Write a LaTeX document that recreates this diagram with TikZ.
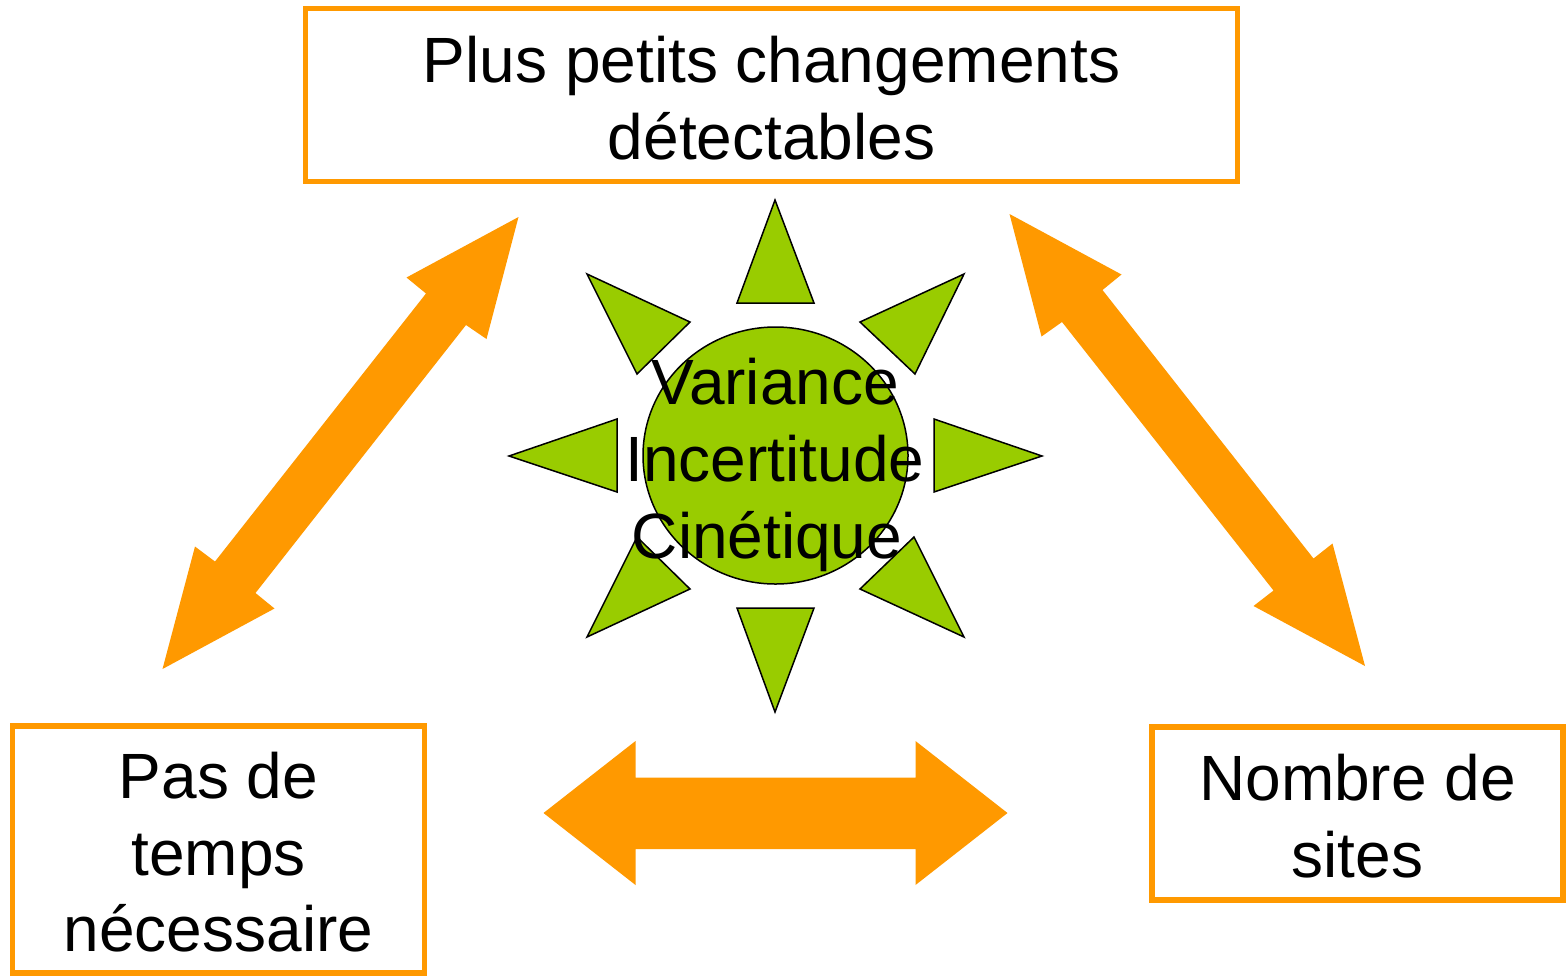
\documentclass[tikz,border=0pt]{standalone}
\usepackage{fontspec}
\setmainfont{Liberation Sans}
\usetikzlibrary{shapes.geometric}
\definecolor{orng}{HTML}{FF9900}
\definecolor{grn}{HTML}{99CC00}
\newcommand{\lift}{\rule{0pt}{26pt}}
\begin{document}
\begin{tikzpicture}[x=0.5pt,y=-0.5pt,
  box/.style={draw=orng, line width=2.75pt, fill=white, inner sep=0pt, align=center,
    font=\fontsize{32}{38.35}\selectfont},
  blockarrow/.style={fill=orng, draw=none},
  ray/.style={fill=grn, draw=black, line width=0.75pt, line join=miter},
  lbl/.style={align=center, inner sep=0pt, font=\fontsize{32}{38.35}\selectfont}]
\useasboundingbox (0,0) rectangle (1566,975);
\fill[white] (0,0) rectangle (1566,975);

% boxes
\node[box, minimum width=466pt, minimum height=86.5pt] (top) at (771.5,95)
  {\lift Plus petits changements\\détectables};
\node[box, minimum width=206pt, minimum height=123.5pt] (left) at (218.5,849.5)
  {\lift Pas de\\temps\\nécessaire};
\node[box, minimum width=205.5pt, minimum height=86.5pt] (right) at (1357.5,813.5)
  {\lift Nombre de\\sites};

% block arrows
\fill[blockarrow] (518.5,217) -- (486.5,339) -- (466,325) -- (255.5,593) -- (274.5,608.5)
  -- (162.5,669) -- (195,546.5) -- (215,561.5) -- (426,293.5) -- (406.5,277.5) -- cycle;
\fill[blockarrow] (1009.5,214) -- (1121.5,274.5) -- (1102.5,290) -- (1313.5,558.5) -- (1332.5,543.5)
  -- (1365,666) -- (1253.5,606) -- (1273.5,590.5) -- (1062,322) -- (1041.5,336.5) -- cycle;
\fill[blockarrow] (543.5,813) -- (635.5,741) -- (635.5,777.5) -- (915.5,777.5) -- (915.5,741)
  -- (1007.5,813) -- (915.5,885) -- (915.5,849) -- (635.5,849) -- (635.5,885) -- cycle;

% sun rays
\filldraw[ray] (775,200) -- (814,303) -- (737,303) -- cycle;
\filldraw[ray] (775,712) -- (814,608) -- (737,608) -- cycle;
\filldraw[ray] (509,456) -- (617,419) -- (617,492) -- cycle;
\filldraw[ray] (1042,456) -- (934,419) -- (934,492) -- cycle;
\filldraw[ray] (587,274) -- (690,322) -- (637,374) -- cycle;
\filldraw[ray] (964,274) -- (860,322) -- (915,374) -- cycle;
\filldraw[ray] (587,637) -- (690,589) -- (637,537) -- cycle;
\filldraw[ray] (964,637) -- (860,589) -- (914,537) -- cycle;

% sun
\node[ray, ellipse, minimum width=132.5pt, minimum height=128.5pt, inner sep=0pt] (sun) at (775.5,455.5) {};
\node[lbl] (suntext) at (775,465) {Variance\\Incertitude\\Cinétique\hspace*{8pt}};
\end{tikzpicture}
\end{document}
